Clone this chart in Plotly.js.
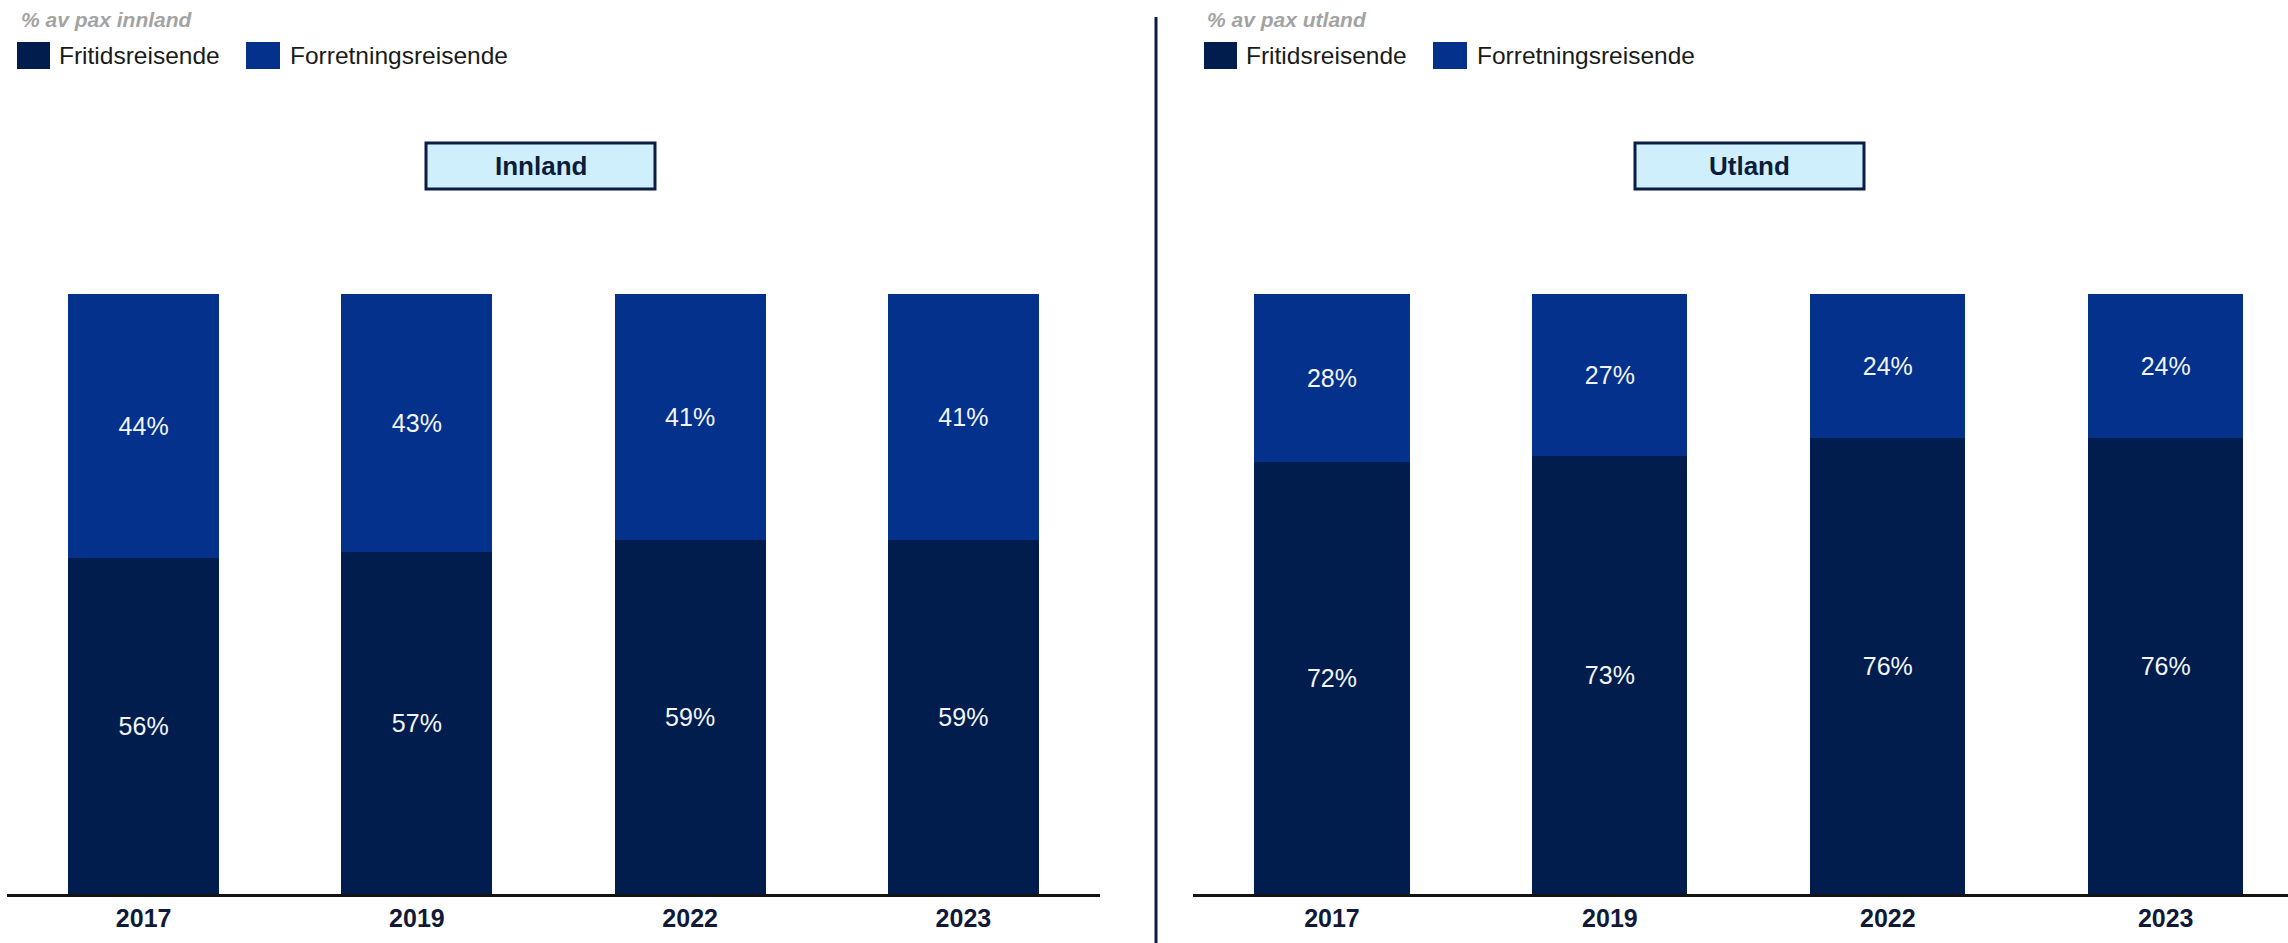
<!DOCTYPE html>
<html>
<head>
<meta charset="utf-8">
<script src="https://cdn.plot.ly/plotly-3.0.1.min.js"></script>
<style>html,body{margin:0;padding:0;background:#fff;}#chart{width:2288px;height:943px;}</style>
</head>
<body>
<div id="chart"></div>
<script>
// ---- data ----
var years = ['2017', '2019', '2022', '2023'];
var innlandFritid = [56, 57, 59, 59];
var innlandForretning = [44, 43, 41, 41];
var utlandFritid = [72, 73, 76, 76];
var utlandForretning = [28, 27, 24, 24];
var seriesNames = ['Fritidsreisende', 'Forretningsreisende'];
var panelTitles = ['Innland', 'Utland'];
var panelSubtitles = ['% av pax innland', '% av pax utland'];

// ---- style ----
var W = 2288, H = 943;
var C_FRITID = '#011d4d';
var C_FORR = '#03318b';
var NAVY = '#0b1d45';
var FONT = 'Liberation Sans, Arial, sans-serif';
function px(x) { return x / W; }
function py(y) { return 1 - y / H; }

function barTrace(y, name, color, xa, ya, w) {
  return {
    type: 'bar', x: years, y: y, name: name, xaxis: xa, yaxis: ya,
    width: w,
    marker: { color: color, line: { width: 0 } },
    texttemplate: '%{y}%', textposition: 'inside', insidetextanchor: 'middle',
    textangle: 0, constraintext: 'none',
    textfont: { family: FONT, size: 25, color: '#f2f5fb' },
    showlegend: false, hoverinfo: 'x+y+name'
  };
}

var data = [
  barTrace(innlandFritid, seriesNames[0], C_FRITID, 'x', 'y', 0.553),
  barTrace(innlandForretning, seriesNames[1], C_FORR, 'x', 'y', 0.553),
  barTrace(utlandFritid, seriesNames[0], C_FRITID, 'x2', 'y2', 0.558),
  barTrace(utlandForretning, seriesNames[1], C_FORR, 'x2', 'y2', 0.558)
];

var yDomain = [py(894), py(294)];
function xAxis(domain, range) {
  return {
    domain: domain, range: range, type: 'category',
    showline: true, linecolor: '#141414', linewidth: 3,
    showgrid: false, zeroline: false, ticks: '',
    tickfont: { family: FONT, size: 25, weight: 'bold', color: '#101a38' },
    fixedrange: true
  };
}
function yAxis(anchor) {
  return {
    domain: yDomain, range: [0, 100], anchor: anchor,
    visible: false, showgrid: false, zeroline: false, fixedrange: true
  };
}

var shapes = [];
var annotations = [];

// divider
shapes.push({ type: 'line', xref: 'paper', yref: 'paper',
  x0: px(1156), x1: px(1156), y0: py(17), y1: py(943),
  line: { color: NAVY, width: 3 } });

// panel legends & titles
var panels = [
  { subX: 19, sq1: 17, t1: 57, sq2: 246, t2: 288, box: [426, 655] },
  { subX: 1205, sq1: 1204, t1: 1244, sq2: 1433, t2: 1475, box: [1635, 1864] }
];
panels.forEach(function (p, i) {
  annotations.push({ xref: 'paper', yref: 'paper', x: px(p.subX), y: py(20),
    xanchor: 'left', yanchor: 'middle', showarrow: false, text: panelSubtitles[i],
    font: { family: FONT, size: 21, style: 'italic', weight: 'bold', color: '#a3a3a3' } });
  shapes.push({ type: 'rect', xref: 'paper', yref: 'paper',
    x0: px(p.sq1), x1: px(p.sq1 + 33), y0: py(69), y1: py(42),
    fillcolor: C_FRITID, line: { width: 0 } });
  shapes.push({ type: 'rect', xref: 'paper', yref: 'paper',
    x0: px(p.sq2), x1: px(p.sq2 + 34), y0: py(69), y1: py(42),
    fillcolor: C_FORR, line: { width: 0 } });
  annotations.push({ xref: 'paper', yref: 'paper', x: px(p.t1), y: py(56),
    xanchor: 'left', yanchor: 'middle', showarrow: false, text: seriesNames[0],
    font: { family: FONT, size: 24.5, color: '#1a1a1a' } });
  annotations.push({ xref: 'paper', yref: 'paper', x: px(p.t2), y: py(56),
    xanchor: 'left', yanchor: 'middle', showarrow: false, text: seriesNames[1],
    font: { family: FONT, size: 24.5, color: '#1a1a1a' } });
  shapes.push({ type: 'rect', xref: 'paper', yref: 'paper',
    x0: px(p.box[0]), x1: px(p.box[1]), y0: py(189), y1: py(143),
    fillcolor: '#cfeffd', line: { color: NAVY, width: 3 } });
  annotations.push({ xref: 'paper', yref: 'paper', x: px((p.box[0] + p.box[1]) / 2), y: py(166),
    xanchor: 'center', yanchor: 'middle', showarrow: false, text: panelTitles[i],
    font: { family: FONT, size: 26, weight: 'bold', color: '#0c1c3e' } });
});

var layout = {
  width: W, height: H,
  margin: { l: 0, r: 0, t: 0, b: 0, pad: 0 },
  paper_bgcolor: '#ffffff', plot_bgcolor: 'rgba(0,0,0,0)',
  barmode: 'stack', showlegend: false,
  xaxis: xAxis([px(7), px(1100)], [-0.5, 3.5]),
  yaxis: yAxis('x'),
  xaxis2: Object.assign(xAxis([px(1193), 1], [-0.5, 3.44]), { anchor: 'y2' }),
  yaxis2: yAxis('x2'),
  shapes: shapes,
  annotations: annotations
};
layout.xaxis.anchor = 'y';

Plotly.newPlot('chart', data, layout, { displayModeBar: false, staticPlot: true });
</script>
</body>
</html>
